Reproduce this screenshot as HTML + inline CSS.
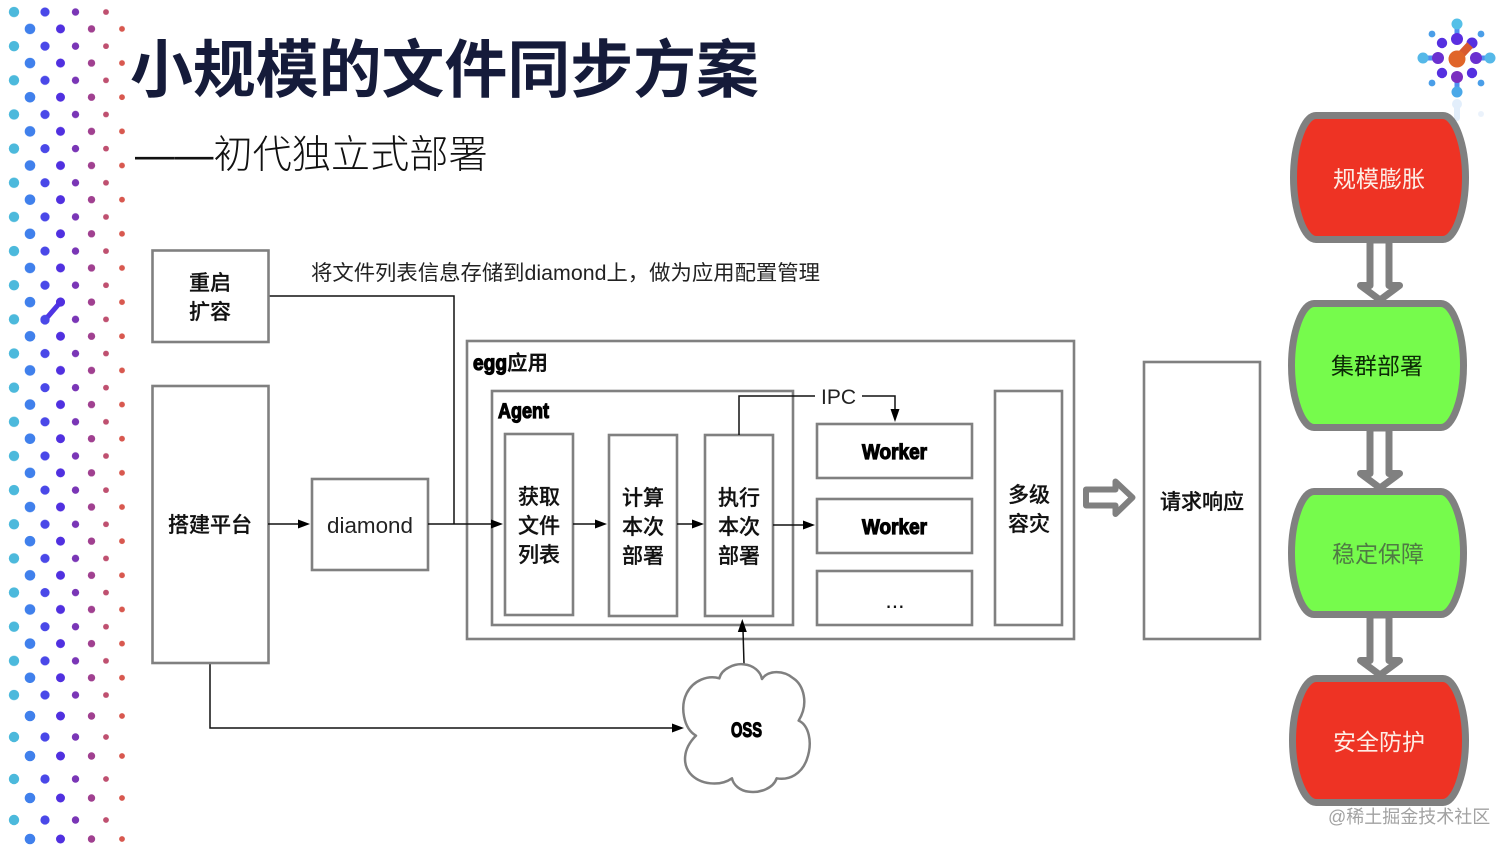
<!DOCTYPE html>
<html><head><meta charset="utf-8"><title>小规模的文件同步方案</title>
<style>
html,body{margin:0;padding:0;background:#fff;width:1512px;height:851px;overflow:hidden}
svg{display:block}
text{font-family:"Liberation Sans","Noto Sans CJK SC",sans-serif}
.b{fill:#fff;stroke:#808080;stroke-width:2.6}
.l{fill:none;stroke:#111;stroke-width:1.5}
.a{fill:#000;stroke:none}
.c{font-size:21px;text-anchor:middle;fill:#111;font-weight:500;stroke:#111;stroke-width:.25}
.h{font-family:"Liberation Sans Narrow","Liberation Sans",sans-serif;font-weight:700;fill:#000;stroke:#000;stroke-width:1.2;font-size:21px}
.s{fill:#fff;stroke:#808080;stroke-width:7;stroke-linejoin:round}
.t{font-size:23px;text-anchor:middle}
</style></head><body>
<svg width="1512" height="851" viewBox="0 0 1512 851" xmlns="http://www.w3.org/2000/svg">
<defs>
<g id="o"><circle cx="14" cy="0" r="5.2" fill="#4cb9dc"/><circle cx="45" cy="0" r="4.6" fill="#4a48e8"/><circle cx="75.5" cy="0" r="3.7" fill="#7a36b6"/><circle cx="106" cy="0" r="2.9" fill="#bf5070"/></g>
<g id="e"><circle cx="30" cy="0" r="5.3" fill="#4080ec"/><circle cx="60.5" cy="0" r="4.5" fill="#5030e0"/><circle cx="91.5" cy="0" r="3.7" fill="#a04090"/><circle cx="122" cy="0" r="2.9" fill="#d8584f"/></g>
<pattern id="d" patternUnits="userSpaceOnUse" x="0" y="0" width="140" height="34.15">
<use href="#o" y="12"/>
<use href="#e" y="28.9"/>
</pattern>
</defs>
<rect x="0" y="0" width="135" height="704" fill="url(#d)"/>
<use href="#e" y="716"/><use href="#o" y="737"/><use href="#e" y="756"/><use href="#o" y="779"/><use href="#e" y="798"/><use href="#o" y="820"/><use href="#e" y="839"/>
<path d="M60.5,302 L45,320" stroke="#4f35e4" stroke-width="5" stroke-linecap="round"/>
<circle cx="60.5" cy="302" r="4.5" fill="#5030e0"/><circle cx="45" cy="320" r="4.6" fill="#4a48e8"/>

<!-- logo -->
<g>
<g opacity=".22"><path d="M1457,104V118" stroke="#7db4f0" stroke-width="6" stroke-linecap="round"/><circle cx="1457" cy="104" r="5" fill="#7db4f0"/><circle cx="1481" cy="114" r="3" fill="#a8c8f0"/></g>
<path d="M1457,24V40" stroke="#4f8ff0" stroke-width="5"/><circle cx="1457" cy="24" r="5.500" fill="#55c0e8"/><circle cx="1457" cy="39" r="6" fill="#5a2ee0"/>
<path d="M1457,92V78" stroke="#4f8ff0" stroke-width="5"/><circle cx="1457" cy="92" r="5.500" fill="#4aa8e8"/><circle cx="1457" cy="77" r="6" fill="#7a2ec0"/>
<path d="M1423,58H1438" stroke="#4f8ff0" stroke-width="5"/><circle cx="1423" cy="58" r="5.500" fill="#55b8e8"/><circle cx="1438" cy="58" r="6" fill="#6a30d0"/>
<path d="M1490,58H1476" stroke="#4f8ff0" stroke-width="5"/><circle cx="1490" cy="58" r="5.500" fill="#55b8e8"/><circle cx="1476" cy="58" r="6" fill="#6a30d0"/>
<circle cx="1442" cy="43" r="5.200" fill="#5530e0"/><circle cx="1472" cy="43" r="5.500" fill="#5530e0"/><circle cx="1442" cy="73" r="5.200" fill="#5530e0"/><circle cx="1472" cy="73" r="5.200" fill="#5530e0"/>
<circle cx="1432" cy="34" r="3.400" fill="#4a9ee8"/><circle cx="1481" cy="34" r="3.400" fill="#4a9ee8"/><circle cx="1432" cy="83" r="3.400" fill="#4a9ee8"/><circle cx="1481" cy="83" r="3.400" fill="#4a9ee8"/>
<path d="M1458,58L1470,45" stroke="#d85a30" stroke-width="8"/><circle cx="1457" cy="59" r="8.500" fill="#e0652a"/>
</g>

<!-- title -->
<text x="130" y="92" font-size="62.900" font-weight="700" fill="#151b3a">小规模的文件同步方案</text>
<text x="135" y="168" font-size="39.200" font-weight="300" fill="#111">——初代独立式部署</text>

<!-- connectors below -->
<path class="l" d="M268,296H454V524"/>
<path class="l" d="M210,663V728H674"/>
<path class="a" d="M684,728L672,723.500V732.500Z"/>

<!-- boxes -->
<rect class="b" x="152.500" y="250.500" width="116" height="91.500"/>
<rect class="b" x="152.500" y="386" width="116" height="277"/>
<rect class="b" x="312" y="479" width="116" height="91"/>
<rect x="467" y="341" width="607" height="298" fill="none" stroke="#808080" stroke-width="2.600"/>
<rect x="492" y="391" width="301" height="234" fill="none" stroke="#808080" stroke-width="2.600"/>
<rect class="b" x="505" y="434" width="68" height="181"/>
<rect class="b" x="609" y="435" width="68" height="181"/>
<rect class="b" x="705" y="435" width="68" height="181"/>
<rect class="b" x="817" y="424" width="155" height="54"/>
<rect class="b" x="817" y="499" width="155" height="54"/>
<rect class="b" x="817" y="571" width="155" height="54"/>
<rect class="b" x="995" y="391" width="67" height="234"/>
<rect class="b" x="1144" y="362" width="116" height="277"/>

<!-- connectors above -->
<path class="l" d="M268,524H300"/><path class="a" d="M310,524L298,519.500V528.500Z"/>
<path class="l" d="M428,524H492"/><path class="a" d="M503,524L491,519.500V528.500Z"/>
<path class="l" d="M573,524H597"/><path class="a" d="M607,524L595,519.500V528.500Z"/>
<path class="l" d="M677,524H694"/><path class="a" d="M704,524L692,519.500V528.500Z"/>
<path class="l" d="M773,525H805"/><path class="a" d="M815,525L803,520.500V529.500Z"/>
<path class="l" d="M739,435V396H815M862,396H895V412"/><path class="a" d="M895,422L890.500,409H899.500Z"/>
<path class="l" d="M744,664L743,630"/><path class="a" d="M742.300,619L737.800,632H746.800Z"/>

<!-- cloud -->
<g transform="translate(670 610) scale(.3333)">
<path fill="#fff" stroke="#808080" stroke-width="7.500" stroke-linejoin="round" d="M148,205 C155,175 195,160 222,163 C250,165 272,185 276,207 C295,180 340,180 370,205 C400,225 418,280 386,332 C415,345 430,395 410,450 C395,490 360,512 320,505 C310,535 270,550 235,545 C210,542 190,525 186,505 C150,530 90,525 60,490 C40,465 35,420 78,377 C40,355 30,290 50,250 C70,210 115,195 148,205 Z"/>
</g>

<!-- box labels -->
<text class="c" x="210" y="290">重启</text>
<text class="c" x="210" y="319">扩容</text>
<text class="c" x="210" y="532">搭建平台</text>
<text x="370" y="533" font-size="22.400" text-anchor="middle" fill="#222">diamond</text>
<text x="311" y="280" font-size="21" fill="#222" textLength="509" lengthAdjust="spacingAndGlyphs">将文件列表信息存储到diamond上，做为应用配置管理</text>
<text class="h" x="473" y="370" textLength="34" lengthAdjust="spacingAndGlyphs">egg</text>
<text x="507" y="370" font-size="20.500" font-weight="700" fill="#111">应用</text>
<text class="h" x="498" y="418" textLength="51" lengthAdjust="spacingAndGlyphs">Agent</text>
<text class="c" x="539" y="504">获取</text><text class="c" x="539" y="533">文件</text><text class="c" x="539" y="562">列表</text>
<text class="c" x="643" y="505">计算</text><text class="c" x="643" y="534">本次</text><text class="c" x="643" y="563">部署</text>
<text class="c" x="739" y="505">执行</text><text class="c" x="739" y="534">本次</text><text class="c" x="739" y="563">部署</text>
<text x="838.500" y="404" font-size="21" text-anchor="middle" fill="#222">IPC</text>
<text class="h" x="862" y="459" textLength="65" lengthAdjust="spacingAndGlyphs">Worker</text>
<text class="h" x="862" y="534" textLength="65" lengthAdjust="spacingAndGlyphs">Worker</text>
<text x="895" y="608" font-size="23" text-anchor="middle" fill="#111">...</text>
<text class="c" x="1029" y="502">多级</text><text class="c" x="1029" y="531">容灾</text>
<text class="c" x="1202" y="509">请求响应</text>
<text class="h" x="731" y="737" textLength="31" lengthAdjust="spacingAndGlyphs">OSS</text>

<!-- big arrow -->
<path d="M1086,489.500H1115.500V481.500L1132.500,497.500L1115.500,514V505.500H1086Z" fill="#fff" stroke="#808080" stroke-width="6" stroke-linejoin="round"/>

<!-- flow arrows -->
<path class="s" d="M1370,240V285.500H1360.500L1380,300L1399.500,285.500H1389V240Z"/>
<path class="s" d="M1370,428V473.500H1360.500L1380,488L1399.500,473.500H1389V428Z"/>
<path class="s" d="M1370,615V660.500H1360.500L1380,675L1399.500,660.500H1389V615Z"/>

<!-- capsules -->
<path d="M1316,115.500H1443C1455,115.500 1465.500,145 1465.500,177.500C1465.500,210 1455,239.500 1443,239.500H1316C1304,239.500 1293.500,210 1293.500,177.500C1293.500,145 1304,115.500 1316,115.500Z" fill="#ee3324" stroke="#808080" stroke-width="7"/>
<path d="M1314,303.500H1441C1453,303.500 1463.500,333 1463.500,365.500C1463.500,398 1453,427.500 1441,427.500H1314C1302,427.500 1291.500,398 1291.500,365.500C1291.500,333 1302,303.500 1314,303.500Z" fill="#76fb4c" stroke="#808080" stroke-width="7"/>
<path d="M1314,491.500H1441C1453,491.500 1463.500,521 1463.500,553C1463.500,585 1453,614.500 1441,614.500H1314C1302,614.500 1291.500,585 1291.500,553C1291.500,521 1302,491.500 1314,491.500Z" fill="#76fb4c" stroke="#808080" stroke-width="7"/>
<path d="M1316,678.500H1443C1455,678.500 1465.500,708 1465.500,740.500C1465.500,773 1455,802.500 1443,802.500H1316C1304,802.500 1292.500,773 1292.500,740.500C1292.500,708 1304,678.500 1316,678.500Z" fill="#ee3324" stroke="#808080" stroke-width="7"/>
<text class="t" x="1379" y="187" fill="#fdeee6">规模膨胀</text>
<text class="t" x="1377" y="374" fill="#0c2a06">集群部署</text>
<text class="t" x="1378" y="562" fill="#4f7a44">稳定保障</text>
<text class="t" x="1379" y="750" fill="#fdeee6">安全防护</text>
<text x="1328" y="823" font-size="18" fill="#a2a2a2">@稀土掘金技术社区</text>
</svg>
</body></html>
